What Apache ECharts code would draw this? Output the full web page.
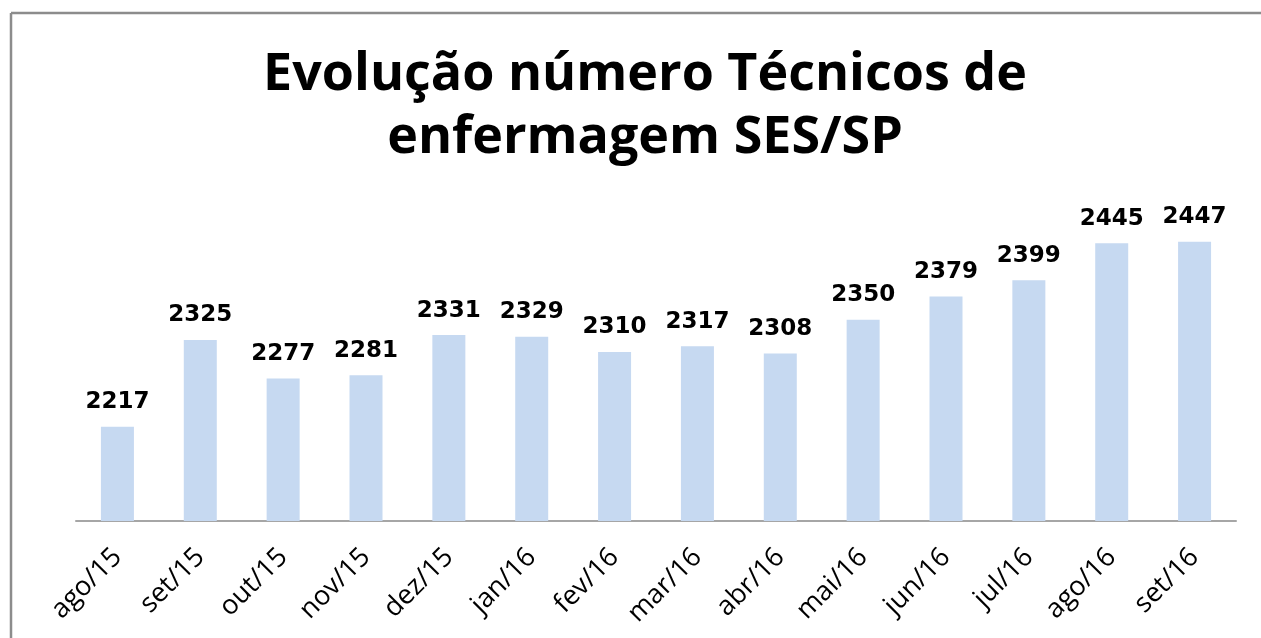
<!DOCTYPE html>
<html>
<head>
<meta charset="utf-8">
<script src="https://cdn.jsdelivr.net/npm/echarts@6/dist/echarts.min.js"></script>
<style>
	html, body { margin: 0; padding: 0; background: #fff; overflow: hidden; }
	#chart { width: 1261px; height: 638px; }
</style>
</head>
<body>
<div id="chart"></div>
<script>
const titleLines = ["Evolução número Técnicos de", "enfermagem SES/SP"];
const months = ["ago/15", "set/15", "out/15", "nov/15", "dez/15", "jan/16", "fev/16",
	"mar/16", "abr/16", "mai/16", "jun/16", "jul/16", "ago/16", "set/16"];
const tecnicos = [2217, 2325, 2277, 2281, 2331, 2329, 2310, 2317, 2308, 2350, 2379, 2399, 2445, 2447];

const chart = echarts.init(document.getElementById("chart"));

// frame: only the top and left edges are visible in the picture
const frameColor = "#8c8c8c";

chart.setOption({
	animation: false,
	textStyle: { fontFamily: "Open Sans" },
	title: {
		text: titleLines.join("\n"),
		left: 640,
		top: 39,
		textAlign: "center",
		textStyle: {
			fontFamily: "Open Sans",
			fontWeight: "bold",
			fontSize: 52,
			lineHeight: 63,
			color: "#000"
		}
	},
	graphic: [
		{
			type: "line",
			silent: true,
			shape: { x1: 11, y1: 13, x2: 1300, y2: 13 },
			style: { stroke: frameColor, lineWidth: 2.5 }
		},
		{
			type: "line",
			silent: true,
			shape: { x1: 11, y1: 13, x2: 11, y2: 700 },
			style: { stroke: frameColor, lineWidth: 2.5 }
		}
	],
	grid: { left: 76, right: 25, top: 199, bottom: 117 },
	xAxis: {
		type: "category",
		data: months,
		axisLine: { lineStyle: { color: "#a6a6a6", width: 2 } },
		axisTick: { show: false },
		axisLabel: {
			rotate: 45,
			margin: 32,
			fontSize: 27,
			color: "#000",
			fontFamily: "Open Sans",
			interval: 0
		}
	},
	yAxis: {
		type: "value",
		min: 2100,
		max: 2500,
		show: false,
		splitLine: { show: false }
	},
	series: [{
		type: "bar",
		data: tecnicos,
		barWidth: 33,
		itemStyle: { color: "#C6D9F1" },
		label: {
			show: true,
			position: "top",
			distance: 13,
			fontFamily: "DejaVu Sans",
			fontWeight: "bold",
			fontSize: 23,
			color: "#000"
		}
	}]
});
</script>
</body>
</html>
